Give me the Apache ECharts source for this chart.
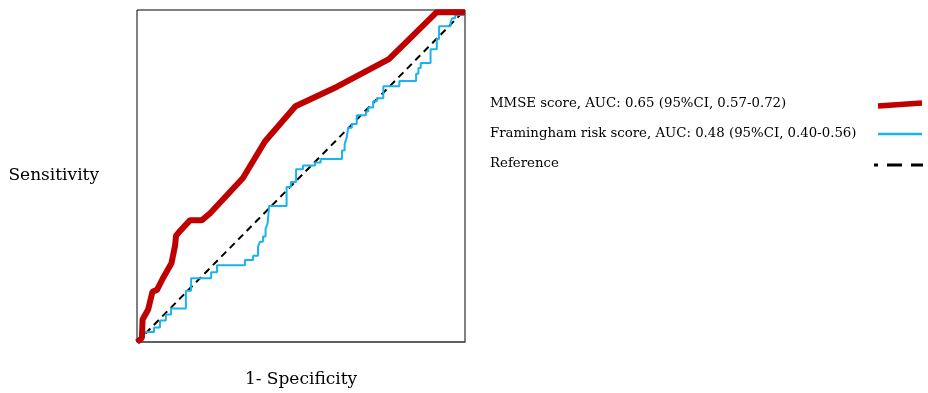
<!DOCTYPE html>
<html>
<head>
<meta charset="utf-8">
<script src="https://cdn.jsdelivr.net/npm/echarts@6/dist/echarts.min.js"></script>
<style>
html,body{margin:0;padding:0;background:#fff;}
#c{width:928px;height:393px;}
</style>
</head>
<body>
<div id="c"></div>
<script>
// MMSE score ROC curve (1-specificity, sensitivity)
var mmseFpr = [0, 0.015, 0.017, 0.034, 0.047, 0.061, 0.079, 0.105, 0.116, 0.119, 0.128, 0.162, 0.198, 0.223, 0.323, 0.390, 0.483, 0.610, 0.768, 0.913, 1.0];
var mmseTpr = [0, 0.012, 0.068, 0.098, 0.151, 0.157, 0.192, 0.237, 0.290, 0.320, 0.331, 0.367, 0.367, 0.388, 0.494, 0.604, 0.710, 0.769, 0.852, 0.993, 0.993];

// Framingham risk score ROC curve (step corners)
var framFpr = [0, 0.009, 0.052, 0.070, 0.088, 0.104, 0.149, 0.165, 0.226, 0.244, 0.329, 0.354, 0.369, 0.375, 0.384, 0.392, 0.398, 0.403, 0.456, 0.469, 0.485, 0.506, 0.543, 0.560, 0.625, 0.633, 0.639, 0.644, 0.655, 0.670, 0.698, 0.705, 0.720, 0.731, 0.751, 0.800, 0.851, 0.858, 0.865, 0.895, 0.914, 0.921, 0.956, 0.961, 0.970, 0.995, 1.0];
var framTpr = [0, 0.030, 0.044, 0.065, 0.083, 0.101, 0.154, 0.192, 0.210, 0.231, 0.247, 0.260, 0.287, 0.302, 0.318, 0.341, 0.357, 0.410, 0.467, 0.482, 0.520, 0.532, 0.541, 0.551, 0.577, 0.596, 0.615, 0.645, 0.657, 0.683, 0.694, 0.706, 0.725, 0.734, 0.770, 0.786, 0.808, 0.825, 0.840, 0.882, 0.913, 0.951, 0.965, 0.975, 0.985, 1.0, 1.0];

// Reference diagonal
var refFpr = [0, 1];
var refTpr = [0, 1];

var legendLabels = [
  'MMSE score, AUC: 0.65 (95%CI, 0.57-0.72)',
  'Framingham risk score, AUC: 0.48 (95%CI, 0.40-0.56)',
  'Reference'
];
var xTitle = '1- Specificity';
var yTitle = 'Sensitivity';

function zip(a, b) { return a.map(function (v, i) { return [v, b[i]]; }); }

var FONT = 'DejaVu Serif';
var chart = echarts.init(document.getElementById('c'), null, {renderer: 'canvas'});
chart.setOption({
  animation: false,
  backgroundColor: '#fff',
  grid: {left: 137, top: 10, width: 328, height: 338, show: true, borderColor: '#000', borderWidth: 1, backgroundColor: 'transparent'},
  xAxis: {
    type: 'value', min: 0, max: 1,
    name: xTitle, nameLocation: 'middle', nameGap: 29,
    nameTextStyle: {fontFamily: FONT, fontSize: 17, color: '#000'},
    axisLine: {show: true, lineStyle: {color: '#555', width: 1.5}},
    axisTick: {show: false}, axisLabel: {show: false}, splitLine: {show: false}
  },
  yAxis: {
    type: 'value', min: 0, max: 1,
    name: yTitle, nameLocation: 'middle', nameRotate: 0, nameGap: 38,
    nameTextStyle: {fontFamily: FONT, fontSize: 17, color: '#000', align: 'right', verticalAlign: 'middle'},
    axisLine: {show: false},
    axisTick: {show: false}, axisLabel: {show: false}, splitLine: {show: false}
  },
  series: [
    {
      name: legendLabels[2], type: 'line', data: zip(refFpr, refTpr), symbol: 'none', z: 2,
      lineStyle: {color: '#000', width: 2, type: [7, 5]}
    },
    {
      name: legendLabels[1], type: 'line', data: zip(framFpr, framTpr), symbol: 'none', step: 'end', z: 3,
      lineStyle: {color: '#1AB3EE', width: 2}
    },
    {
      name: legendLabels[0], type: 'line', data: zip(mmseFpr, mmseTpr), symbol: 'none', z: 4,
      lineStyle: {color: '#C00000', width: 6}
    }
  ],
  graphic: [
    {type: 'text', left: 490, top: 104 - 7, style: {text: legendLabels[0], font: '13.3px "' + FONT + '"', fill: '#000'}},
    {type: 'text', left: 490, top: 134 - 7, style: {text: legendLabels[1], font: '13.3px "' + FONT + '"', fill: '#000'}},
    {type: 'text', left: 490, top: 164 - 7, style: {text: legendLabels[2], font: '13.3px "' + FONT + '"', fill: '#000'}},
    {type: 'polyline', shape: {points: [[878, 106], [922, 103]]}, style: {stroke: '#C00000', lineWidth: 5.5, fill: null}},
    {type: 'line', shape: {x1: 878, y1: 134, x2: 922, y2: 134}, style: {stroke: '#1AB3EE', lineWidth: 2.5}},
    {type: 'line', shape: {x1: 874, y1: 165, x2: 923, y2: 165}, style: {stroke: '#000', lineWidth: 3, lineDash: [15, 9], lineDashOffset: 11}}
  ]
});
</script>
</body>
</html>
